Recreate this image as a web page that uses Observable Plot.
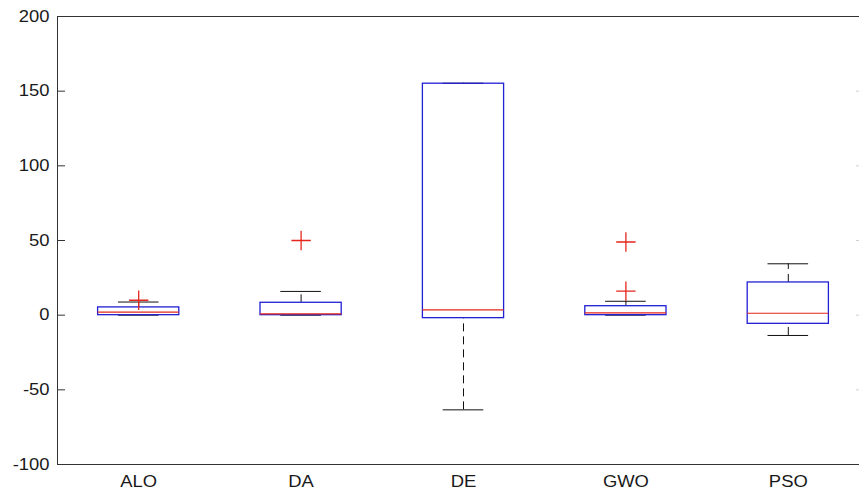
<!DOCTYPE html>
<html>
<head>
<meta charset="utf-8">
<script src="https://cdn.jsdelivr.net/npm/d3@7"></script>
<script src="https://cdn.jsdelivr.net/npm/@observablehq/plot@0.6"></script>
<style>
  html, body { margin: 0; padding: 0; background: #fff; overflow: hidden; }
  #chart svg { overflow: hidden; }
</style>
</head>
<body>
<div id="chart"></div>
<script>
// Box-plot summary for each optimiser
const categories   = ["ALO", "DA", "DE", "GWO", "PSO"];
const lowerWhisker = [0, 0, -63.4, 0, -13.6];
const lowerQuart   = [0, 0, -2, 0, -5.8];
const medians      = [2, 0.8, 3.6, 1.6, 1.3];
const upperQuart   = [5.2, 8.3, 155, 6.0, 21.9];
const upperWhisker = [8.8, 15.9, 155.3, 9.3, 34.4];

// Outlying runs (+ markers)
const outlierGroup = ["ALO", "DA", "GWO", "GWO"];
const outlierValue = [10, 50, 49, 16.1];

const yTicks = [-100, -50, 0, 50, 100, 150, 200];

const boxes = categories.map((name, i) => ({
  name, pos: i + 1,
  lo: lowerWhisker[i], q1: lowerQuart[i], med: medians[i], q3: upperQuart[i], hi: upperWhisker[i]
}));
const outliers = outlierGroup.map((g, i) => ({ pos: categories.indexOf(g) + 1, value: outlierValue[i] }));

const halfBox = 0.25, halfCap = 0.125;
const blue = "#2020d4", red = "#e6261c", ink = "#111";
const labelFont = { fontSize: 16, fill: "#1a1a1a" };

const chart = Plot.plot({
  width: 859,
  height: 495,
  marginLeft: 57,
  marginTop: 16,
  marginBottom: 31,
  marginRight: -10,
  style: { fontFamily: "'Liberation Sans', Arial, sans-serif", fontSize: "16px", color: "#1a1a1a", background: "#fff" },
  x: { type: "linear", domain: [0.5, 5.5], label: null },
  y: { domain: [-100, 200], label: null },
  marks: [
    // whiskers
    Plot.ruleX(boxes, { x: "pos", y1: "lo", y2: "q1", stroke: ink, strokeDasharray: "8,5" }),
    Plot.ruleX(boxes, { x: "pos", y1: "q3", y2: "hi", stroke: ink, strokeDasharray: "8,5" }),
    // whisker caps
    Plot.ruleY(boxes, { y: "lo", x1: d => d.pos - halfCap, x2: d => d.pos + halfCap, stroke: ink }),
    Plot.ruleY(boxes, { y: "hi", x1: d => d.pos - halfCap, x2: d => d.pos + halfCap, stroke: ink }),
    // interquartile boxes
    Plot.rect(boxes, { x1: d => d.pos - halfBox, x2: d => d.pos + halfBox, y1: "q1", y2: "q3", fill: "none", stroke: blue, strokeWidth: 1.3 }),
    // medians
    Plot.ruleY(boxes, { y: "med", x1: d => d.pos - halfBox, x2: d => d.pos + halfBox, stroke: red, strokeWidth: 1.2 }),
    // outliers
    Plot.dot(outliers, { x: "pos", y: "value", symbol: "plus", r: 6.3, stroke: red, strokeWidth: 1.3 }),
    // y axis: labels (plain hyphen for negatives), inward ticks, mirrored ticks on the right
    Plot.axisY({ ticks: yTicks, tickFormat: d => String(d), tickSize: 0, tickPadding: 8, label: null, ...labelFont }),
    Plot.axisY({ ticks: yTicks, anchor: "left", tickSize: -8, text: null, label: null, stroke: "#333" }),
    Plot.axisY({ ticks: yTicks, anchor: "right", tickSize: -14, text: null, label: null, stroke: "#d0d0d0" }),
    // x axis category labels
    Plot.axisX({ ticks: [1, 2, 3, 4, 5], tickFormat: i => categories[i - 1], tickSize: 0, tickPadding: 11, label: null, ...labelFont }),
    Plot.frame({ stroke: "#333" })
  ]
});

document.getElementById("chart").append(chart);

// widen the axis lettering slightly, in the manner of the classic Helvetica screen font
chart.querySelectorAll("text").forEach(t => {
  const w = t.getComputedTextLength();
  if (w > 0) {
    t.setAttribute("textLength", (w * 1.15).toFixed(1));
    t.setAttribute("lengthAdjust", "spacingAndGlyphs");
  }
});
</script>
</body>
</html>
